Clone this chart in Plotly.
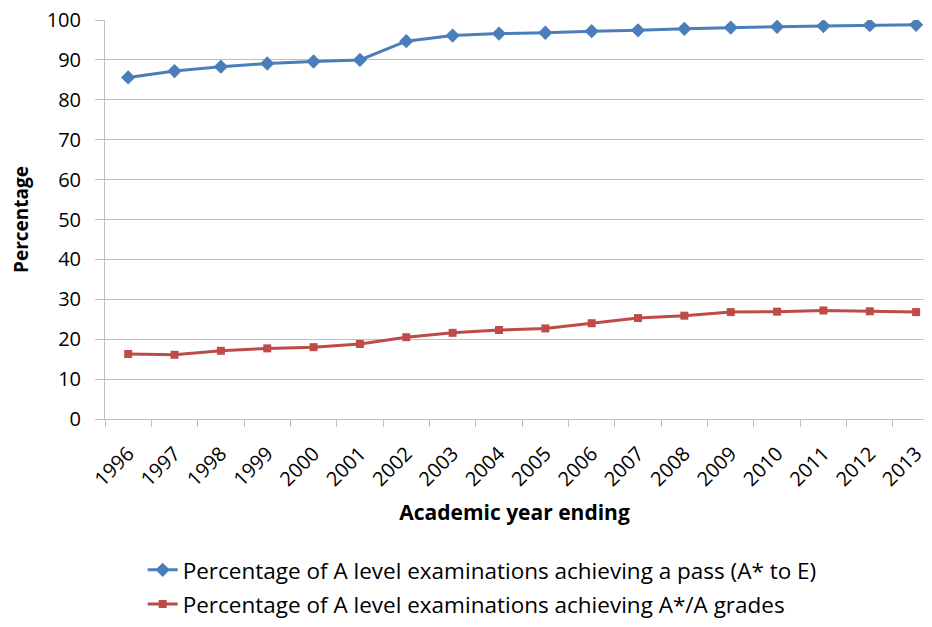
import plotly.graph_objects as go

years = [str(y) for y in range(1996, 2014)]
pass_rate = [85.6, 87.2, 88.3, 89.1, 89.6, 90.0, 94.7, 96.1, 96.6, 96.8,
             97.2, 97.4, 97.8, 98.1, 98.3, 98.5, 98.7, 98.8]
top_grades = [16.3, 16.1, 17.1, 17.7, 18.0, 18.8, 20.5, 21.6, 22.3, 22.7,
              24.0, 25.3, 25.9, 26.8, 26.9, 27.2, 27.0, 26.8]

name_pass = 'Percentage of A level examinations achieving a pass (A* to E)'
name_top = 'Percentage of A level examinations achieving A*/A grades'

fig = go.Figure()
fig.add_trace(go.Scatter(x=years, y=pass_rate, mode='lines+markers', name=name_pass,
                         line=dict(color='#4a7ebb', width=3), legendgroup='pass',
                         marker=dict(color='#4a7ebb', size=11, symbol='diamond')))
fig.add_trace(go.Scatter(x=years, y=top_grades, mode='lines+markers', name=name_top,
                         line=dict(color='#be4b48', width=3), legendgroup='top',
                         marker=dict(color='#be4b48', size=8, symbol='square')))

fig.update_xaxes(type='category', range=[-0.5, 17.17], tickangle=-45, automargin=False,
                 tickson='boundaries', ticks='outside', ticklen=7, tickcolor='#bfbfbf',
                 ticklabelstandoff=14, ticklabeloverflow='allow',
                 showline=True, linecolor='#bfbfbf', linewidth=1, showgrid=False,
                 tickfont=dict(size=20, color='black'),
                 title=dict(text='<b>Academic year ending</b>', font=dict(size=21, color='black'), standoff=14))
fig.update_yaxes(range=[0, 100], dtick=10, ticks='outside', ticklen=9, tickcolor='#bfbfbf',
                 ticklabelstandoff=10, automargin=False, ticklabeloverflow='allow',
                 showline=True, linecolor='#bfbfbf', linewidth=1,
                 showgrid=True, gridcolor='#c0c0c0', gridwidth=1, zeroline=False,
                 tickfont=dict(size=20, color='black'),
                 title=dict(text='<b>Percentage</b>', font=dict(size=19, color='black'), standoff=27))

fig.update_layout(width=916, height=611,
                  margin=dict(l=97, r=0, t=12, b=200, autoexpand=False),
                  paper_bgcolor='white', plot_bgcolor='white',
                  font=dict(family='Open Sans', color='black'),
                  legend=dict(orientation='v', x=0.046, xanchor='left', y=-0.325, yanchor='top',
                              traceorder='grouped', tracegroupgap=2,
                              font=dict(size=22.5, color='black'), bgcolor='rgba(0,0,0,0)'))

fig.write_html('out.html')
